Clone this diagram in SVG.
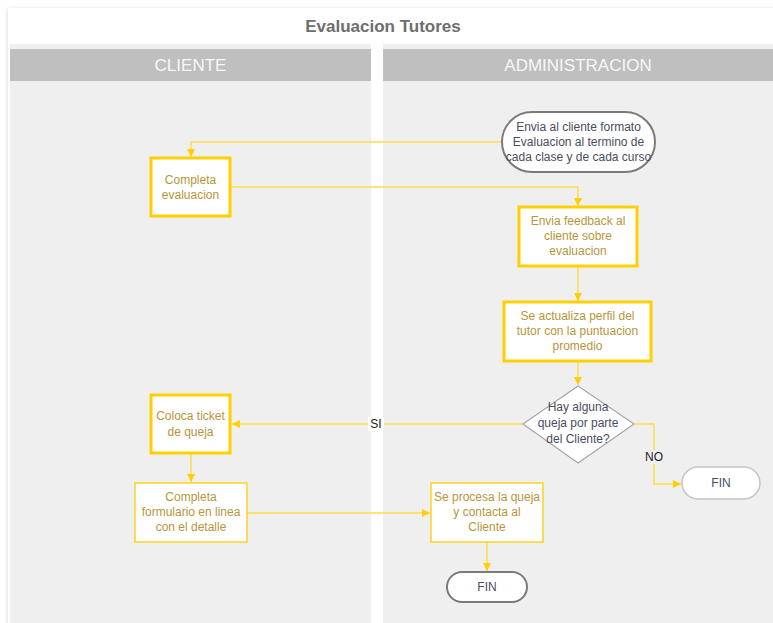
<svg xmlns="http://www.w3.org/2000/svg" width="773" height="623" viewBox="0 0 773 623">
  <style>
    .lane { fill: #efefef; }
    .hdr { fill: #bfbfbf; }
    .hdrtxt { font-family: "Liberation Sans", Arial, sans-serif; font-size: 17px; fill: #f7f7f7; text-anchor: middle; }
    .title { font-family: "Liberation Sans", Arial, sans-serif; font-size: 17px; font-weight: bold; fill: #6e6e6e; text-anchor: middle; }
    .box { fill: #ffffff; stroke: #ffd21f; stroke-width: 1.5; }
    .boxb { fill: #ffffff; stroke: #ffd000; stroke-width: 3; }
    .term { fill: #ffffff; stroke: #7a7a7a; stroke-width: 2; }
    .terml { fill: #ffffff; stroke: #c4c4c4; stroke-width: 1.5; }
    .dia { fill: #ffffff; stroke: #a6a6a6; stroke-width: 1.2; }
    .t { font-family: "Liberation Sans", Arial, sans-serif; font-size: 12px; fill: #b8953a; text-anchor: middle; }
    .td { font-family: "Liberation Sans", Arial, sans-serif; font-size: 12px; fill: #4a4d5c; text-anchor: middle; }
    .lbl { font-family: "Liberation Sans", Arial, sans-serif; font-size: 12px; fill: #222222; text-anchor: middle; }
    .edge { fill: none; stroke: #ffdc4a; stroke-width: 1.5; }
  </style>
  <defs>
    <marker id="arr" viewBox="0 0 10 10" refX="10" refY="5" markerWidth="8" markerHeight="8" markerUnits="userSpaceOnUse" orient="auto">
      <path d="M0,0 L10,5 L0,10 z" fill="#ffd000"/>
    </marker>
    <filter id="sh" x="-5%" y="-20%" width="110%" height="160%">
      <feDropShadow dx="0" dy="1" stdDeviation="2" flood-color="#000000" flood-opacity="0.18"/>
    </filter>
  </defs>

  <rect width="773" height="623" fill="#ffffff"/>

  <!-- pool frame and title -->
  <g id="pool">
    <rect x="8" y="8" width="770" height="620" fill="#ffffff" filter="url(#sh)"/>
    <text class="title" x="383" y="32">Evaluacion Tutores</text>
  </g>

  <!-- swimlanes -->
  <g id="lane-cliente">
    <rect class="lane" x="10" y="44" width="361" height="579"/>
    <rect class="hdr" x="10" y="49" width="361" height="32"/>
    <text class="hdrtxt" x="190.5" y="71">CLIENTE</text>
  </g>
  <g id="lane-admin">
    <rect class="lane" x="383" y="44" width="390" height="579"/>
    <rect class="hdr" x="383" y="49" width="390" height="32"/>
    <text class="hdrtxt" x="578" y="71">ADMINISTRACION</text>
  </g>

  <!-- connectors -->
  <g id="connectors">
    <path class="edge" d="M502,142 H191 V157" marker-end="url(#arr)"/>
    <path class="edge" d="M230,187 H578 V206" marker-end="url(#arr)"/>
    <path class="edge" d="M578,266 V301" marker-end="url(#arr)"/>
    <path class="edge" d="M578,361 V385" marker-end="url(#arr)"/>
    <path class="edge" d="M523,424 H232" marker-end="url(#arr)"/>
    <path class="edge" d="M634,424 H654 V484 H681" marker-end="url(#arr)"/>
    <path class="edge" d="M191,454 V482" marker-end="url(#arr)"/>
    <path class="edge" d="M247,513 H430" marker-end="url(#arr)"/>
    <path class="edge" d="M487,542 V571" marker-end="url(#arr)"/>
    <rect x="368" y="417" width="16" height="14" fill="#ffffff"/>
    <text class="lbl" x="376" y="428">SI</text>
    <rect x="643" y="450" width="22" height="14" fill="#efefef"/>
    <text class="lbl" x="654" y="461">NO</text>
  </g>

  <!-- nodes -->
  <g id="start">
    <rect class="term" x="502" y="112" width="153" height="60" rx="30" ry="30"/>
    <text class="td" x="578.5" y="131">Envia al cliente formato</text>
    <text class="td" x="578.5" y="146">Evaluacion al termino de</text>
    <text class="td" x="578.5" y="161">cada clase y de cada curso</text>
  </g>

  <g id="completa-evaluacion">
    <rect class="boxb" x="151" y="158" width="79" height="58"/>
    <text class="t" x="190.5" y="184">Completa</text>
    <text class="t" x="190.5" y="199">evaluacion</text>
  </g>

  <g id="envia-feedback">
    <rect class="boxb" x="519" y="207" width="118" height="59"/>
    <text class="t" x="578" y="225">Envia feedback al</text>
    <text class="t" x="578" y="240">cliente sobre</text>
    <text class="t" x="578" y="255">evaluacion</text>
  </g>

  <g id="actualiza-perfil">
    <rect class="boxb" x="504" y="302" width="147" height="59"/>
    <text class="t" x="577.5" y="320">Se actualiza perfil del</text>
    <text class="t" x="577.5" y="335">tutor con la puntuacion</text>
    <text class="t" x="577.5" y="350">promedio</text>
  </g>

  <g id="decision-queja">
    <polygon class="dia" points="578,386 634,424 578,463 523,424"/>
    <text class="td" x="578" y="411">Hay alguna</text>
    <text class="td" x="578" y="427">queja por parte</text>
    <text class="td" x="578" y="443">del Cliente?</text>
  </g>

  <g id="fin-no">
    <rect class="terml" x="682" y="467" width="78" height="32" rx="16" ry="16"/>
    <text class="td" x="721" y="487">FIN</text>
  </g>

  <g id="coloca-ticket">
    <rect class="boxb" x="151" y="395" width="79" height="58"/>
    <text class="t" x="190.5" y="420">Coloca ticket</text>
    <text class="t" x="190.5" y="436">de queja</text>
  </g>

  <g id="completa-formulario">
    <rect class="box" x="135" y="483" width="112" height="59"/>
    <text class="t" x="191" y="501">Completa</text>
    <text class="t" x="191" y="516">formulario en linea</text>
    <text class="t" x="191" y="531">con el detalle</text>
  </g>

  <g id="procesa-queja">
    <rect class="box" x="431" y="483" width="112" height="59"/>
    <text class="t" x="487" y="501">Se procesa la queja</text>
    <text class="t" x="487" y="516">y contacta al</text>
    <text class="t" x="487" y="531">Cliente</text>
  </g>

  <g id="fin-si">
    <rect class="term" x="447" y="572" width="80" height="30" rx="15" ry="15"/>
    <text class="td" x="487" y="591">FIN</text>
  </g>
</svg>
